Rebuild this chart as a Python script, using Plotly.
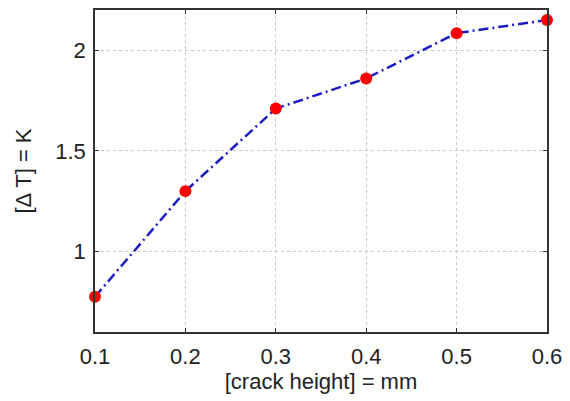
import plotly.graph_objects as go

crack_height = [0.1, 0.2, 0.3, 0.4, 0.5, 0.6]
delta_t = [0.775, 1.30, 1.71, 1.86, 2.085, 2.15]
x_ticks = [0.1, 0.2, 0.3, 0.4, 0.5, 0.6]
x_tick_text = ["0.1", "0.2", "0.3", "0.4", "0.5", "0.6"]
y_ticks = [1, 1.5, 2]
y_tick_text = ["1", "1.5", "2"]

FONT = "Liberation Sans, Arial"
fig = go.Figure()
fig.add_trace(go.Scatter(
    x=crack_height, y=delta_t, mode="lines+markers",
    line=dict(color="#1c1cc4", width=2.5, dash="10px,4px,2px,4px"),
    marker=dict(color="#ff0000", size=12, line=dict(width=0)),
    cliponaxis=False,
))

axis_common = dict(
    showline=True, linecolor="#333333", linewidth=1.5, mirror="ticks",
    ticks="inside", ticklen=4, tickcolor="#333333",
    showgrid=True, gridcolor="#c8c8c8", griddash="dot", gridwidth=1,
    zeroline=False,
    tickfont=dict(family=FONT, size=22, color="#222222"),
)
fig.update_xaxes(range=[0.1, 0.6], tickvals=x_ticks, ticktext=x_tick_text,
                 ticklabelstandoff=4,
                 title=dict(text="[crack height] = mm", standoff=4,
                            font=dict(family=FONT, size=22, color="#222222")),
                 **axis_common)
fig.update_yaxes(range=[0.6, 2.2], tickvals=y_ticks, ticktext=y_tick_text,
                 ticklabelstandoff=3,
                 title=dict(text="[Δ T] = K", standoff=18,
                            font=dict(family=FONT, size=22, color="#222222")),
                 **axis_common)
fig.update_layout(
    width=570, height=401, showlegend=False,
    margin=dict(l=95, r=19, t=8, b=69),
    plot_bgcolor="white", paper_bgcolor="white",
)
fig.write_html("out.html")
